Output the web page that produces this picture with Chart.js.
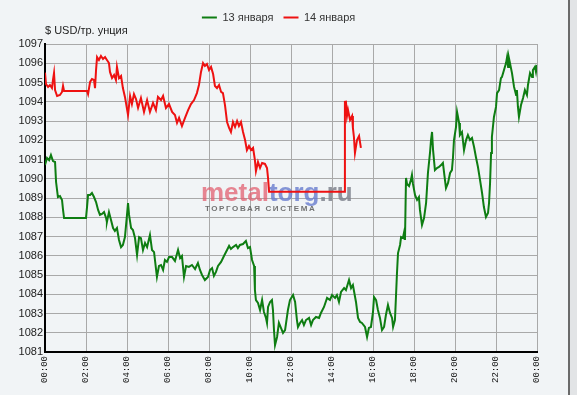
<!DOCTYPE html>
<html>
<head>
<meta charset="utf-8">
<script src="https://cdn.jsdelivr.net/npm/chart.js@4/dist/chart.umd.min.js"></script>
<style>
  html, body { margin: 0; padding: 0; background: #F1F4F6; }
  #wrap { width: 577px; height: 395px; }
</style>
</head>
<body>
<div id="wrap"><canvas id="goldChart" width="577" height="395"></canvas></div>
<script>
// Gold price, USD per troy ounce, intraday (hours since midnight)
const seriesNames = ['13 января', '14 января'];

const greenHours = [0, 0.10, 0.20, 0.29, 0.39, 0.49, 0.54, 0.63, 0.73, 0.83, 0.88, 0.93, 2.00, 2.05, 2.10, 2.20, 2.29, 2.39, 2.49, 2.59,
    2.68, 2.78, 2.88, 2.98, 3.02, 3.12, 3.22, 3.32, 3.41, 3.51, 3.61, 3.71, 3.80, 3.90, 4.00, 4.05, 4.10, 4.20, 4.29, 4.39,
    4.49, 4.59, 4.68, 4.78, 4.88, 4.98, 5.12, 5.22, 5.32, 5.41, 5.46, 5.56, 5.66, 5.76, 5.85, 5.95, 6.05, 6.20, 6.34, 6.49,
    6.59, 6.68, 6.78, 6.88, 7.02, 7.17, 7.32, 7.46, 7.56, 7.66, 7.80, 7.95, 8.05, 8.15, 8.24, 8.34, 8.44, 8.59, 8.73, 8.88,
    8.98, 9.07, 9.17, 9.32, 9.41, 9.51, 9.66, 9.80, 9.90, 10.00, 10.10, 10.20, 10.24, 10.29, 10.39, 10.49, 10.59, 10.68, 10.78, 10.83,
    10.88, 10.98, 11.07, 11.12, 11.17, 11.22, 11.32, 11.41, 11.51, 11.61, 11.71, 11.85, 11.95, 12.10, 12.20, 12.29, 12.34, 12.44, 12.54, 12.63,
    12.73, 12.88, 12.98, 13.07, 13.22, 13.37, 13.46, 13.61, 13.76, 13.90, 14.00, 14.15, 14.24, 14.34, 14.44, 14.59, 14.68, 14.83, 14.93, 15.02,
    15.17, 15.27, 15.37, 15.46, 15.61, 15.71, 15.80, 15.90, 16.00, 16.05, 16.15, 16.24, 16.34, 16.44, 16.54, 16.63, 16.73, 16.83, 16.93, 16.98,
    17.07, 17.12, 17.17, 17.22, 17.32, 17.37, 17.46, 17.51, 17.56, 17.61, 17.66, 17.76, 17.85, 17.90, 17.95, 18.05, 18.15, 18.24, 18.29, 18.39,
    18.49, 18.59, 18.68, 18.78, 18.83, 18.88, 18.93, 19.02, 19.12, 19.22, 19.32, 19.41, 19.51, 19.56, 19.66, 19.76, 19.85, 19.90, 19.95, 20.05,
    20.10, 20.20, 20.24, 20.34, 20.44, 20.54, 20.63, 20.73, 20.83, 20.93, 21.02, 21.12, 21.22, 21.32, 21.41, 21.51, 21.61, 21.66, 21.71, 21.76,
    21.80, 21.90, 22.00, 22.05, 22.15, 22.24, 22.29, 22.39, 22.49, 22.54, 22.59, 22.63, 22.68, 22.78, 22.88, 22.98, 23.02, 23.07, 23.12, 23.22,
    23.32, 23.41, 23.51, 23.56, 23.66, 23.76, 23.80, 23.90, 23.95, 24.00];
const greenPrices = [1090.71, 1091.08, 1090.97, 1091.23, 1090.92, 1090.87, 1089.83, 1089.05, 1089.10, 1088.90, 1088.38, 1087.96, 1087.96, 1088.53, 1089.16, 1089.16, 1089.26, 1089.05, 1088.79, 1088.38,
    1088.12, 1088.17, 1088.27, 1087.96, 1087.75, 1088.27, 1087.86, 1087.44, 1087.29, 1087.44, 1086.82, 1086.45, 1086.56, 1086.97, 1088.12, 1088.74, 1088.12, 1087.44, 1087.34, 1086.92,
    1086.04, 1086.97, 1086.92, 1086.30, 1086.66, 1086.45, 1087.08, 1086.30, 1086.19, 1085.36, 1084.90, 1085.47, 1085.52, 1085.26, 1085.78, 1085.68, 1085.93, 1085.93, 1085.73, 1086.30,
    1085.88, 1085.99, 1084.90, 1085.47, 1085.42, 1085.52, 1085.31, 1085.62, 1085.26, 1085.00, 1084.74, 1084.90, 1085.26, 1085.36, 1084.95, 1085.16, 1085.47, 1085.68, 1085.99, 1086.30,
    1086.51, 1086.35, 1086.45, 1086.56, 1086.40, 1086.56, 1086.61, 1086.77, 1086.40, 1086.45, 1085.78, 1085.47, 1084.22, 1083.70, 1083.55, 1083.18, 1083.70, 1083.08, 1082.77, 1082.51,
    1083.34, 1083.60, 1083.70, 1083.18, 1082.14, 1081.36, 1081.78, 1082.51, 1082.25, 1081.99, 1082.14, 1083.18, 1083.70, 1083.96, 1083.60, 1082.66, 1082.30, 1082.51, 1082.66, 1082.40,
    1082.66, 1082.77, 1082.40, 1082.66, 1082.82, 1082.77, 1083.03, 1083.34, 1083.81, 1083.70, 1083.96, 1083.81, 1083.96, 1083.60, 1084.12, 1084.32, 1084.22, 1084.74, 1084.32, 1084.48,
    1083.60, 1082.77, 1082.56, 1082.51, 1082.30, 1081.78, 1082.25, 1082.30, 1083.08, 1083.86, 1083.70, 1083.18, 1082.77, 1082.14, 1082.30, 1082.92, 1083.44, 1083.03, 1082.77, 1082.30,
    1082.66, 1083.86, 1085.10, 1086.14, 1086.56, 1086.97, 1086.92, 1087.18, 1086.82, 1090.04, 1089.73, 1089.62, 1089.94, 1090.20, 1089.73, 1089.16, 1088.90, 1089.05, 1088.38, 1087.60,
    1087.96, 1088.74, 1090.30, 1091.34, 1092.01, 1092.43, 1091.49, 1090.45, 1090.56, 1090.61, 1090.71, 1090.82, 1089.94, 1089.52, 1089.78, 1090.30, 1090.45, 1091.08, 1092.01, 1092.69,
    1093.47, 1092.90, 1092.27, 1092.43, 1091.49, 1092.01, 1092.27, 1092.01, 1092.12, 1091.65, 1091.13, 1090.61, 1089.94, 1089.26, 1088.53, 1088.01, 1088.22, 1088.74, 1089.78, 1091.34,
    1092.17, 1093.21, 1093.73, 1094.45, 1094.61, 1095.23, 1095.29, 1095.65, 1096.01, 1096.32, 1095.81, 1096.27, 1096.01, 1095.49, 1094.77, 1094.35, 1094.61, 1093.73, 1093.21, 1093.83,
    1094.19, 1094.61, 1094.35, 1094.87, 1095.49, 1095.29, 1095.65, 1095.81, 1095.55, 1095.91];

const redHours = [0, 0.05, 0.15, 0.24, 0.34, 0.39, 0.44, 0.49, 0.59, 0.73, 0.83, 0.88, 0.93, 2.05, 2.10, 2.20, 2.29, 2.39, 2.44, 2.49,
    2.54, 2.63, 2.73, 2.83, 2.93, 3.02, 3.12, 3.17, 3.27, 3.37, 3.46, 3.51, 3.61, 3.71, 3.80, 3.90, 4.05, 4.15, 4.24, 4.34,
    4.44, 4.54, 4.68, 4.83, 4.98, 5.12, 5.27, 5.41, 5.51, 5.66, 5.76, 5.90, 6.05, 6.20, 6.34, 6.44, 6.54, 6.68, 6.83, 6.98,
    7.12, 7.27, 7.41, 7.51, 7.61, 7.71, 7.80, 7.90, 8.00, 8.10, 8.20, 8.29, 8.39, 8.49, 8.59, 8.68, 8.78, 8.88, 8.98, 9.07,
    9.17, 9.27, 9.37, 9.46, 9.56, 9.66, 9.76, 9.85, 9.95, 10.05, 10.15, 10.24, 10.29, 10.39, 10.49, 10.59, 10.73, 10.83, 10.88, 10.93,
    14.59, 14.63, 14.68, 14.73, 14.78, 14.88, 14.98, 15.02, 15.07, 15.12, 15.22, 15.32, 15.41];
const redPrices = [1095.51, 1094.92, 1094.77, 1094.87, 1094.71, 1095.13, 1095.49, 1094.61, 1094.30, 1094.35, 1094.51, 1094.82, 1094.56, 1094.56, 1094.40, 1095.03, 1095.18, 1095.13, 1094.71, 1095.65,
    1096.32, 1096.17, 1096.38, 1096.22, 1096.32, 1096.17, 1096.01, 1095.55, 1095.23, 1095.39, 1095.13, 1095.81, 1095.23, 1095.34, 1094.71, 1094.25, 1093.31, 1094.30, 1093.88, 1094.40,
    1094.14, 1093.68, 1094.19, 1093.47, 1094.09, 1093.47, 1093.94, 1093.57, 1094.25, 1094.09, 1094.30, 1093.68, 1093.88, 1093.47, 1093.31, 1092.90, 1093.16, 1092.74, 1093.16, 1093.57,
    1093.88, 1094.09, 1094.45, 1094.87, 1095.55, 1096.01, 1095.86, 1095.96, 1095.65, 1095.81, 1095.44, 1094.82, 1094.71, 1094.87, 1094.51, 1094.45, 1093.83, 1092.95, 1092.64, 1092.43,
    1092.95, 1092.69, 1093.00, 1092.74, 1092.95, 1092.43, 1092.01, 1091.49, 1091.70, 1091.49, 1091.60, 1090.97, 1090.40, 1090.87, 1090.56, 1090.82, 1090.77, 1090.56, 1090.04, 1089.33,
    1089.33, 1093.99, 1094.00, 1093.26, 1093.57, 1093.05, 1093.26, 1092.64, 1092.17, 1091.34, 1092.01, 1092.22, 1091.60];

const xTickLabels = ['00:00', '02:00', '04:00', '06:00', '08:00', '10:00', '12:00', '14:00', '16:00', '18:00', '20:00', '22:00', '00:00'];
const yMin = 1081;
const yMax = 1097;
const unitLabel = '$ USD/тр. унция';

function toPoints(xs, ys) {
    return xs.map((x, i) => ({ x: x, y: ys[i] }));
}

// Background, watermark and the right frame edge
Chart.register({
    id: 'page-extras',
    beforeDraw: (chart) => {
        const ctx = chart.ctx;
        ctx.save();
        ctx.fillStyle = '#F1F4F6';
        ctx.fillRect(0, 0, chart.width, chart.height);
        ctx.restore();
    },
    beforeDatasetsDraw: (chart) => {
        const ctx = chart.ctx;
        ctx.save();
        ctx.font = 'bold 26px "Liberation Sans", Arial, sans-serif';
        ctx.textBaseline = 'alphabetic';
        let x = 201;
        const y = 201;
        [['metal', 'rgba(226, 96, 112, 0.75)'], ['torg', 'rgba(104, 124, 206, 0.8)'], ['.ru', 'rgba(128, 132, 142, 0.85)']].forEach(([t, c]) => {
            ctx.fillStyle = c;
            ctx.fillText(t, x, y);
            x += ctx.measureText(t).width;
        });
        ctx.font = 'bold 8px "Liberation Sans", Arial, sans-serif';
        ctx.letterSpacing = '1.6px';
        ctx.fillStyle = 'rgba(100, 100, 100, 0.9)';
        ctx.textBaseline = 'middle';
        ctx.fillText('ТОРГОВАЯ СИСТЕМА', 205, 208.5);
        ctx.restore();
    },
    afterDraw: (chart) => {
        const ctx = chart.ctx;
        ctx.save();
        ctx.fillStyle = '#6a6a6a';
        ctx.fillRect(568, 0, 2, chart.height);
        ctx.fillStyle = '#e2e4e6';
        ctx.fillRect(570, 0, chart.width - 570, chart.height);
        ctx.restore();
    }
});

var ctx = document.getElementById('goldChart').getContext('2d');
var goldChart = new Chart(ctx, {
    type: 'line',
    data: {
        datasets: [{
            label: seriesNames[0],
            data: toPoints(greenHours, greenPrices),
            borderColor: '#0E7D12',
            backgroundColor: '#0E7D12',
            borderWidth: 2,
            pointRadius: 0,
            tension: 0
        },
        {
            label: seriesNames[1],
            data: toPoints(redHours, redPrices),
            borderColor: '#EE1111',
            backgroundColor: '#EE1111',
            borderWidth: 2,
            pointRadius: 0,
            tension: 0
        }]
    },
    options: {
        responsive: false,
        animation: false,
        layout: { padding: { top: 2, right: 20, left: 0, bottom: 0 } },
        plugins: {
            legend: {
                display: true,
                position: 'top',
                align: 'center',
                labels: {
                    usePointStyle: true,
                    pointStyle: 'line',
                    pointStyleWidth: 15,
                    padding: 10,
                    color: '#333',
                    font: { family: '"Liberation Sans", Arial, sans-serif', size: 11 }
                }
            },
            // unit label sits just above the plot, left-aligned to it
            title: {
                display: true,
                text: unitLabel,
                position: 'top',
                align: 'start',
                fullSize: false,
                weight: 500,
                color: '#222',
                font: { family: '"Liberation Sans", Arial, sans-serif', size: 11, weight: 'normal', lineHeight: 1 },
                padding: { top: -8, bottom: 8 }
            },
            tooltip: { enabled: false }
        },
        scales: {
            x: {
                type: 'linear',
                min: 0,
                max: 24,
                afterFit: (scale) => {
                    scale.height = 43;
                    scale.paddingRight = 40;
                },
                ticks: {
                    stepSize: 2,
                    minRotation: 90,
                    maxRotation: 90,
                    autoSkip: false,
                    padding: 4,
                    color: '#111',
                    font: { family: '"Liberation Mono", "DejaVu Sans Mono", monospace', size: 9 },
                    callback: (value, index) => xTickLabels[index]
                },
                grid: { color: '#A9A9A9', lineWidth: 1, drawTicks: false },
                border: { color: '#000', width: 2 }
            },
            y: {
                min: yMin,
                max: yMax,
                afterFit: (scale) => {
                    scale.width = 45;
                    scale.paddingTop = 44;
                },
                ticks: {
                    stepSize: 1,
                    padding: 2,
                    color: '#222',
                    font: { family: '"Liberation Sans", Arial, sans-serif', size: 11 },
                    callback: (value) => String(value)
                },
                grid: { color: '#A9A9A9', lineWidth: 1, drawTicks: false },
                border: { color: '#000', width: 2 }
            }
        }
    }
});
</script>
</body>
</html>
